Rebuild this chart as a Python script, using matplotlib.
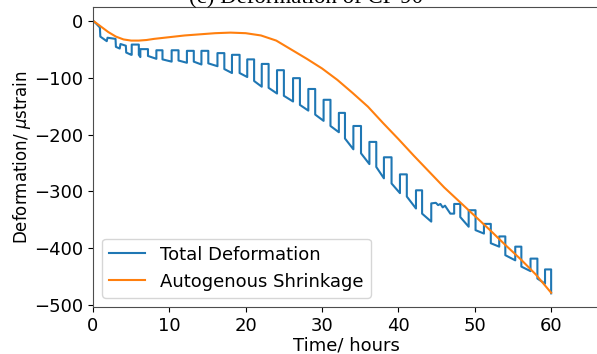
import matplotlib.pyplot as plt

# autogenous shrinkage (orange)
shrink_t = [0, 1, 2, 3, 4, 5, 6, 7, 8, 10, 12, 14, 16, 18, 20, 22, 24, 26, 28,
            30, 32, 34, 36, 38, 40, 42, 44, 46, 48, 50, 52, 54, 56, 58, 60]
shrink_v = [0, -10, -20, -28, -33, -35, -35, -34, -32, -29, -26, -24, -22, -21,
            -22, -26, -35, -51, -67, -84, -104, -127, -151, -180, -208, -237,
            -265, -293, -318, -343, -368, -394, -419, -446, -478]

# total deformation (blue): start of the curve before the regular cycles
start_t = [0, 0.4, 0.9, 0.96, 1.8, 1.9, 2.95, 3.0, 3.5, 3.6, 4.3, 4.35]
start_v = [0, -5, -12, -28, -36, -30, -32, -46, -49, -41, -44, -56]

# one row per cycle: rise time, top level, drop time, level after drop, level before next rise
rise_t = [5.07, 6.2, 8.3, 10.3, 12.3, 14.2, 16.3, 18.2, 20.2, 22.1, 24.1, 26.2,
          28.2, 30.2, 32.2, 34.1, 36.2, 38.1, 40.2, 42.3]
top_v = [-42, -50, -52, -52, -53, -53, -57, -60, -68, -76, -87, -101,
         -120, -139, -162, -185, -213, -240, -270, -298]
drop_t = [6.0, 7.2, 9.1, 11.2, 13.2, 15.1, 17.2, 19.2, 21.1, 23.0, 25.0, 27.1,
          29.1, 31.1, 33.0, 35.1, 37.1, 39.1, 41.1, 43.1]
drop_v = [-60, -62, -68, -70, -72, -75, -85, -92, -106, -118, -132, -148,
          -165, -185, -207, -233, -257, -286, -309, -339]
low_v = [-64, -67, -72, -74, -77, -80, -92, -99, -116, -128, -142, -158,
         -176, -196, -226, -252, -277, -303, -330, -353]

# irregular stretch around 44-47 h
mid_t = [44.3, 44.3, 44.9, 45.2, 45.5, 45.8, 46.1, 46.8]
mid_v = [-353, -321, -320, -324, -322, -328, -325, -339]

rise2_t = [47.3, 49.2, 51.2, 53.2, 55.3, 57.3, 59.2]
top2_v = [-322, -333, -357, -379, -397, -418, -437]
drop2_t = [48.1, 50.1, 52.1, 54.0, 56.1, 58.2, 60.0]
drop2_v = [-345, -368, -391, -412, -432, -453, -479]
low2_v = [-362, -374, -397, -421, -440, -462, -479]


def build(rt, tv, dt, dv, lv, first_low):
    t, v = [], []
    prev = first_low
    for i in range(len(rt)):
        t += [rt[i], rt[i], dt[i], dt[i]]
        v += [prev, tv[i], tv[i], dv[i]]
        prev = lv[i]
    return t, v


t1, v1 = build(rise_t, top_v, drop_t, drop_v, low_v, -60)
t2, v2 = build(rise2_t, top2_v, drop2_t, drop2_v, low2_v, -339)

total_t = start_t + [5.0] + t1 + mid_t + t2
total_v = start_v + [-60] + v1 + mid_v + v2

plt.rcParams['font.size'] = 13

fig = plt.figure(figsize=(5.97, 3.54), dpi=100)
ax = fig.add_axes([93/597, 47/354, 507/597, 300/354])

ax.plot(total_t, total_v, color='#1f77b4', lw=1.5, label='Total Deformation')
ax.plot(shrink_t, shrink_v, color='#ff7f0e', lw=1.5, label='Autogenous Shrinkage')

ax.set_xlim(0, 66.4)
ax.set_ylim(-503, 24)
ax.set_xticks([0, 10, 20, 30, 40, 50, 60])
ax.set_yticks([0, -100, -200, -300, -400, -500])
ax.set_xlabel('Time/ hours', labelpad=1)
ax.set_ylabel(r'Deformation/ $\mu$strain', fontsize=12, labelpad=1)
ax.spines['right'].set_visible(False)
for s in ['left', 'bottom', 'top']:
    ax.spines[s].set_color('0.3')

ax.legend(loc='lower left')

# caption of the figure, cut off at the top
fig.text(0.513, 1 - 3.5/354, '(c) Deformation of CP 90', ha='center',
         va='baseline', family='Liberation Serif', fontsize=16.5)

plt.savefig('out.png', dpi=100)
